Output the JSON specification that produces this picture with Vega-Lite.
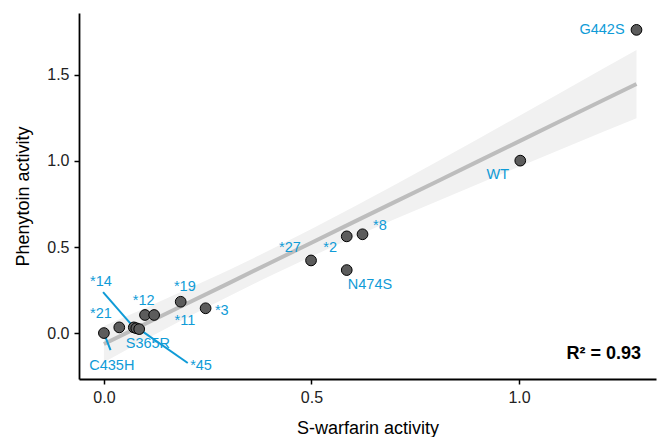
{
  "$schema": "https://vega.github.io/schema/vega-lite/v6.json",
  "width": 577,
  "height": 366,
  "autosize": {"type": "none"},
  "padding": {"left": 79, "top": 13, "right": 2, "bottom": 58},
  "background": "white",
  "config": {
    "view": {"stroke": null},
    "font": "Liberation Sans",
    "axis": {
      "grid": false,
      "domainColor": "black",
      "domainWidth": 1.8,
      "tickColor": "black",
      "tickWidth": 1.5,
      "tickSize": 5,
      "labelFont": "Liberation Sans",
      "labelFontSize": 16,
      "labelColor": "#222222",
      "titleFont": "Liberation Sans",
      "titleFontSize": 18,
      "titleFontWeight": "normal",
      "titleColor": "black"
    }
  },
  "datasets": {
    "points": [
      {"name": "G442S", "x": 1.283, "y": 1.762, "lx": 1.2, "ly": 1.762, "sx": null, "sy": null},
      {"name": "WT", "x": 1.003, "y": 1.002, "lx": 0.949, "ly": 0.919, "sx": null, "sy": null},
      {"name": "*8", "x": 0.623, "y": 0.574, "lx": 0.665, "ly": 0.622, "sx": null, "sy": null},
      {"name": "*2", "x": 0.585, "y": 0.562, "lx": 0.545, "ly": 0.494, "sx": null, "sy": null},
      {"name": "N474S", "x": 0.585, "y": 0.366, "lx": 0.641, "ly": 0.279, "sx": null, "sy": null},
      {"name": "*27", "x": 0.499, "y": 0.422, "lx": 0.448, "ly": 0.494, "sx": null, "sy": null},
      {"name": "*3", "x": 0.245, "y": 0.144, "lx": 0.284, "ly": 0.128, "sx": null, "sy": null},
      {"name": "*19", "x": 0.185, "y": 0.182, "lx": 0.195, "ly": 0.267, "sx": null, "sy": null},
      {"name": "*12", "x": 0.099, "y": 0.105, "lx": 0.096, "ly": 0.186, "sx": null, "sy": null},
      {"name": "*11", "x": 0.121, "y": 0.105, "lx": 0.195, "ly": 0.07, "sx": null, "sy": null},
      {"name": "*21", "x": 0.037, "y": 0.033, "lx": -0.007, "ly": 0.11, "sx": null, "sy": null},
      {"name": "*14", "x": 0.072, "y": 0.033, "lx": -0.007, "ly": 0.297, "sx": -0.002, "sy": 0.238},
      {"name": "S365R", "x": 0.078, "y": 0.028, "lx": 0.106, "ly": -0.064, "sx": null, "sy": null},
      {"name": "*45", "x": 0.085, "y": 0.023, "lx": 0.234, "ly": -0.192, "sx": 0.202, "sy": -0.174},
      {"name": "C435H", "x": 0.0, "y": 0.0, "lx": 0.019, "ly": -0.192, "sx": 0.016, "sy": -0.099}
    ],
    "band": [
      {"x": 0.0, "lo": -0.169, "fit": -0.064, "hi": 0.041},
      {"x": 0.1, "lo": -0.038, "fit": 0.054, "hi": 0.146},
      {"x": 0.2, "lo": 0.09, "fit": 0.172, "hi": 0.254},
      {"x": 0.3, "lo": 0.213, "fit": 0.289, "hi": 0.365},
      {"x": 0.4, "lo": 0.332, "fit": 0.407, "hi": 0.482},
      {"x": 0.5, "lo": 0.445, "fit": 0.525, "hi": 0.605},
      {"x": 0.6, "lo": 0.555, "fit": 0.643, "hi": 0.731},
      {"x": 0.7, "lo": 0.661, "fit": 0.761, "hi": 0.861},
      {"x": 0.8, "lo": 0.763, "fit": 0.878, "hi": 0.993},
      {"x": 0.9, "lo": 0.865, "fit": 0.996, "hi": 1.127},
      {"x": 1.0, "lo": 0.967, "fit": 1.114, "hi": 1.261},
      {"x": 1.1, "lo": 1.067, "fit": 1.232, "hi": 1.397},
      {"x": 1.2, "lo": 1.167, "fit": 1.35, "hi": 1.533},
      {"x": 1.283, "lo": 1.249, "fit": 1.447, "hi": 1.645}
    ],
    "annot": [
      {"label": "R² = 0.93", "x": 1.294, "y": -0.122}
    ]
  },
  "layer": [
    {
      "data": {"name": "band"},
      "mark": {"type": "area", "color": "#f1f1f1", "opacity": 1},
      "encoding": {
        "x": {"field": "x", "type": "quantitative", "scale": {"domain": [-0.06, 1.33], "nice": false, "zero": false},
              "axis": {"values": [0, 0.5, 1.0], "format": ".1f", "title": "S-warfarin activity", "labelPadding": 5, "titlePadding": 14}},
        "y": {"field": "lo", "type": "quantitative", "scale": {"domain": [-0.267, 1.86], "nice": false, "zero": false},
              "axis": {"values": [0, 0.5, 1.0, 1.5], "format": ".1f", "title": "Phenytoin activity", "labelPadding": 5, "titlePadding": 14}},
        "y2": {"field": "hi"}
      }
    },
    {
      "data": {"name": "band"},
      "mark": {"type": "line", "color": "#bdbdbd", "strokeWidth": 4},
      "encoding": {
        "x": {"field": "x", "type": "quantitative"},
        "y": {"field": "fit", "type": "quantitative"}
      }
    },
    {
      "data": {"name": "points"},
      "transform": [{"filter": "datum.sx != null"}],
      "mark": {"type": "rule", "color": "#0f9bd7", "strokeWidth": 2},
      "encoding": {
        "x": {"field": "x", "type": "quantitative"},
        "y": {"field": "y", "type": "quantitative"},
        "x2": {"field": "sx"},
        "y2": {"field": "sy"}
      }
    },
    {
      "data": {"name": "points"},
      "mark": {"type": "point", "filled": true, "fill": "#5c5c5c", "stroke": "black", "strokeWidth": 1, "size": 115, "opacity": 1},
      "encoding": {
        "x": {"field": "x", "type": "quantitative"},
        "y": {"field": "y", "type": "quantitative"}
      }
    },
    {
      "data": {"name": "points"},
      "mark": {"type": "text", "color": "#0f9bd7", "fontSize": 14.5, "align": "center", "baseline": "middle", "font": "Liberation Sans"},
      "encoding": {
        "x": {"field": "lx", "type": "quantitative"},
        "y": {"field": "ly", "type": "quantitative"},
        "text": {"field": "name"}
      }
    },
    {
      "data": {"name": "annot"},
      "mark": {"type": "text", "color": "black", "fontSize": 18, "fontWeight": "bold", "align": "right", "baseline": "middle", "font": "Liberation Sans"},
      "encoding": {
        "x": {"field": "x", "type": "quantitative"},
        "y": {"field": "y", "type": "quantitative"},
        "text": {"field": "label"}
      }
    }
  ]
}
